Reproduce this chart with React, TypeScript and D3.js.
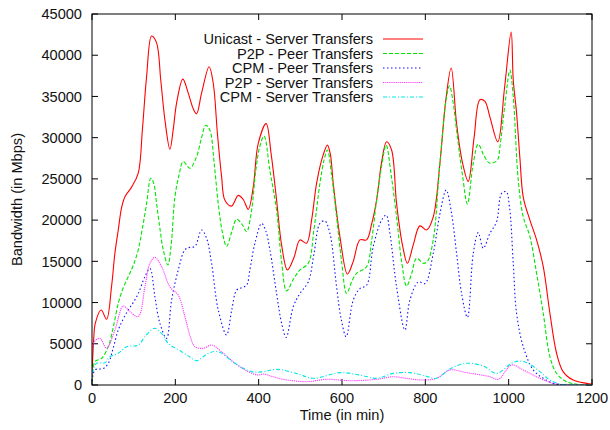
import React from "react";
import * as d3 from "d3";

const unicastT = [0, 4, 8, 22, 35, 47, 55, 63, 71, 79, 95, 111, 121, 131, 143, 155, 165, 175, 187, 195, 203, 218, 231, 243, 251, 263, 281, 291, 301, 311, 319, 335, 351, 363, 375, 387, 399, 418, 430, 443, 455, 469, 485, 499, 515, 527, 539, 553, 565, 572, 579, 595, 613, 627, 643, 659, 671, 683, 695, 707, 719, 731, 745, 757, 771, 787, 803, 819, 835, 849, 862, 875, 889, 903, 917, 931, 943, 955, 974, 990, 1006, 1011, 1019, 1027, 1035, 1051, 1067, 1083, 1099, 1115, 1131, 1155, 1187, 1200];
const unicastV = [1000, 5500, 7500, 9100, 7970, 12000, 16000, 18800, 21500, 22840, 24000, 25700, 31000, 37400, 42330, 41500, 37000, 32150, 28600, 31000, 34200, 37100, 35400, 33500, 32900, 35400, 38600, 36600, 30500, 25300, 22400, 21700, 23000, 22500, 21300, 24000, 29300, 31700, 28000, 22440, 17000, 13950, 15500, 17600, 17200, 20000, 24450, 27600, 29100, 28000, 24450, 18000, 13460, 15000, 17600, 17600, 19500, 22400, 27000, 29500, 28500, 22000, 17000, 14760, 17000, 19300, 18800, 20400, 26900, 34500, 38450, 31700, 27000, 24700, 30000, 34600, 34400, 32500, 29500, 36000, 42800, 37000, 33000, 27500, 22800, 20000, 17600, 14350, 8700, 3850, 1600, 600, 200, 100];

const p2pPeerT = [0, 7, 23, 39, 51, 63, 75, 87, 99, 111, 121, 131, 141, 148, 155, 163, 171, 182, 190, 199, 209, 219, 235, 251, 262, 273, 283, 293, 303, 313, 323, 335, 347, 360, 371, 383, 393, 403, 413, 427, 443, 455, 467, 483, 499, 519, 533, 547, 557, 565, 575, 587, 599, 611, 623, 635, 659, 671, 683, 695, 706, 718, 731, 743, 755, 767, 779, 795, 805, 819, 835, 851, 858, 866, 875, 889, 901, 915, 927, 941, 955, 973, 979, 991, 1003, 1011, 1023, 1035, 1051, 1067, 1083, 1099, 1115, 1139, 1170, 1200];
const p2pPeerV = [0, 2830, 3230, 4650, 7000, 9900, 11800, 13140, 14500, 16400, 19000, 22000, 25070, 24500, 22000, 19000, 16400, 14560, 17000, 22800, 25500, 27100, 26300, 27700, 29800, 31500, 30900, 27000, 22000, 18500, 16800, 18500, 20100, 19500, 18600, 21200, 26000, 29000, 30200, 26000, 21200, 15000, 11400, 12800, 13950, 14760, 19000, 24450, 27300, 28500, 25500, 20400, 15000, 11100, 12500, 13550, 14350, 17500, 22400, 26500, 29100, 25500, 20400, 15000, 12000, 13500, 15370, 14760, 15000, 17600, 26900, 34970, 36300, 34500, 30900, 25500, 21950, 26900, 29200, 27800, 26900, 27300, 28900, 34000, 38200, 34970, 24870, 20400, 18000, 13550, 8700, 3430, 1420, 400, 50, 0];

const cpmPeerT = [0, 7, 27, 39, 51, 63, 75, 87, 99, 111, 127, 139, 151, 163, 179, 191, 207, 223, 235, 247, 263, 275, 287, 303, 323, 335, 347, 359, 371, 379, 391, 407, 417, 427, 443, 455, 466, 483, 499, 519, 533, 547, 559, 571, 587, 598, 610, 627, 643, 659, 675, 695, 706, 715, 731, 751, 763, 783, 799, 819, 835, 850, 863, 875, 887, 901, 915, 927, 939, 955, 971, 983, 994, 1002, 1011, 1019, 1035, 1059, 1083, 1107, 1140, 1200];
const cpmPeerV = [0, 1820, 2000, 2630, 4500, 6670, 8000, 9100, 10000, 11100, 13140, 14150, 10700, 7480, 5660, 10300, 13950, 16400, 16700, 16800, 18800, 17800, 14760, 9100, 6070, 9000, 11500, 11800, 12100, 14000, 17200, 19600, 18700, 16400, 11100, 7500, 5780, 9500, 11100, 12500, 16000, 19600, 19900, 18400, 11900, 8000, 5860, 10300, 11700, 12100, 16800, 20000, 20600, 18400, 11900, 6670, 10300, 12500, 12300, 15970, 20800, 23650, 20800, 15970, 11100, 8200, 15970, 18480, 16580, 18400, 19800, 23250, 23450, 21600, 14760, 8700, 4650, 1820, 810, 200, 0, 0];

const p2pServerT = [0, 3, 19, 35, 55, 75, 91, 111, 127, 139, 151, 167, 187, 207, 223, 235, 247, 267, 287, 311, 343, 375, 399, 411, 435, 459, 515, 563, 619, 683, 723, 755, 795, 827, 859, 899, 955, 975, 1007, 1035, 1075, 1107, 1140, 1200];
const p2pServerV = [1000, 5050, 5660, 4450, 6670, 9580, 8900, 8290, 11900, 14760, 15480, 14350, 11900, 10900, 8290, 6000, 4650, 4450, 4850, 4040, 2630, 1620, 1210, 1330, 1000, 690, 400, 690, 520, 690, 1000, 800, 600, 810, 1820, 1500, 1010, 690, 2430, 1820, 810, 200, 0, 0];

const cpmServerT = [0, 11, 31, 43, 63, 83, 111, 127, 150, 167, 183, 215, 235, 251, 279, 303, 343, 383, 411, 443, 491, 531, 595, 643, 683, 723, 763, 800, 827, 859, 899, 939, 971, 1007, 1027, 1047, 1075, 1099, 1123, 1160, 1200];
const cpmServerV = [1400, 2630, 2700, 3430, 3840, 4650, 4850, 5860, 6880, 6270, 5050, 4040, 3400, 2950, 3840, 4040, 2630, 1620, 1620, 1900, 1400, 810, 1500, 1210, 810, 1410, 1500, 1100, 810, 1940, 2630, 2300, 1410, 2630, 2910, 2630, 1620, 600, 120, 0, 0];

const seriesNames = [
  "Unicast - Server Transfers",
  "P2P - Peer Transfers",
  "CPM - Peer Transfers",
  "P2P - Server Transfers",
  "CPM - Server Transfers",
];
const xTicks = [0, 200, 400, 600, 800, 1000, 1200];
const yTicks = [0, 5000, 10000, 15000, 20000, 25000, 30000, 35000, 40000, 45000];

const W = 610, H = 430;
const M = { left: 92, top: 14, right: 18, bottom: 45 };
const FONT = "'Liberation Sans', Arial, Helvetica, sans-serif";
const FS = 14.6;

const styles = [
  { color: "#ff0000", dash: "none" },
  { color: "#00e600", dash: "4,2" },
  { color: "#1010ff", dash: "1.5,2.5" },
  { color: "#ff3cff", dash: "1.2,0.9" },
  { color: "#00e6e6", dash: "4,2,1,2" },
];

export default function App() {
  const x = d3.scaleLinear().domain([0, 1200]).range([M.left, W - M.right]);
  const y = d3.scaleLinear().domain([0, 45000]).range([H - M.bottom, M.top]);
  const line = d3
    .line<[number, number]>()
    .x((d) => x(d[0]))
    .y((d) => y(d[1]))
    .curve(d3.curveCatmullRom.alpha(0.5));

  const data: [number, number][][] = [
    unicastT.map((t, i) => [t, unicastV[i]]),
    p2pPeerT.map((t, i) => [t, p2pPeerV[i]]),
    cpmPeerT.map((t, i) => [t, cpmPeerV[i]]),
    p2pServerT.map((t, i) => [t, p2pServerV[i]]),
    cpmServerT.map((t, i) => [t, cpmServerV[i]]),
  ];

  const x0 = M.left, x1 = W - M.right, y0 = H - M.bottom, y1 = M.top;
  const tl = 6;

  return (
    <svg
      width={W}
      height={H}
      style={{ position: "absolute", left: 0, top: 0, background: "#fff" }}
      fontFamily={FONT}
    >
      <defs>
        <clipPath id="plot">
          <rect x={x0} y={y1 - 2} width={x1 - x0} height={y0 - y1 + 2} />
        </clipPath>
      </defs>
      <rect x={0} y={0} width={W} height={H} fill="#fff" />
      {yTicks.map((v) => (
        <g key={"y" + v}>
          <line x1={x0} x2={x0 + tl} y1={y(v)} y2={y(v)} stroke="#000" strokeWidth={1} />
          <line x1={x1} x2={x1 - tl} y1={y(v)} y2={y(v)} stroke="#000" strokeWidth={1} />
          <text x={82} y={y(v)} dy="0.36em" textAnchor="end" fontSize={FS} fill="#111">
            {v}
          </text>
        </g>
      ))}
      {xTicks.map((t) => (
        <g key={"x" + t}>
          <line x1={x(t)} x2={x(t)} y1={y0} y2={y0 - tl} stroke="#000" strokeWidth={1} />
          <line x1={x(t)} x2={x(t)} y1={y1} y2={y1 + tl} stroke="#000" strokeWidth={1} />
          <text x={x(t)} y={403} textAnchor="middle" fontSize={FS} fill="#111">
            {t}
          </text>
        </g>
      ))}
      <g clipPath="url(#plot)">
        {data.map((d, i) => (
          <path
            key={i}
            d={line(d) || ""}
            fill="none"
            stroke={styles[i].color}
            strokeWidth={1.1}
            strokeDasharray={styles[i].dash}
          />
        ))}
      </g>
      <rect x={x0} y={y1} width={x1 - x0} height={y0 - y1} fill="none" stroke="#000" strokeWidth={1} />
      {seriesNames.map((n, i) => {
        const ly = 39 + i * 14.5;
        return (
          <g key={n}>
            <text x={373} y={ly} dy="0.36em" textAnchor="end" fontSize={FS} fill="#111">
              {n}
            </text>
            <line
              x1={383}
              x2={423}
              y1={ly}
              y2={ly}
              stroke={styles[i].color}
              strokeWidth={1.1}
              strokeDasharray={styles[i].dash}
            />
          </g>
        );
      })}
      <text x={(x0 + x1) / 2} y={420} textAnchor="middle" fontSize={FS} fill="#111">
        Time (in min)
      </text>
      <text
        transform={`translate(22, ${(y0 + y1) / 2}) rotate(-90)`}
        textAnchor="middle"
        fontSize={FS}
        fill="#111"
      >
        Bandwidth (in Mbps)
      </text>
    </svg>
  );
}
